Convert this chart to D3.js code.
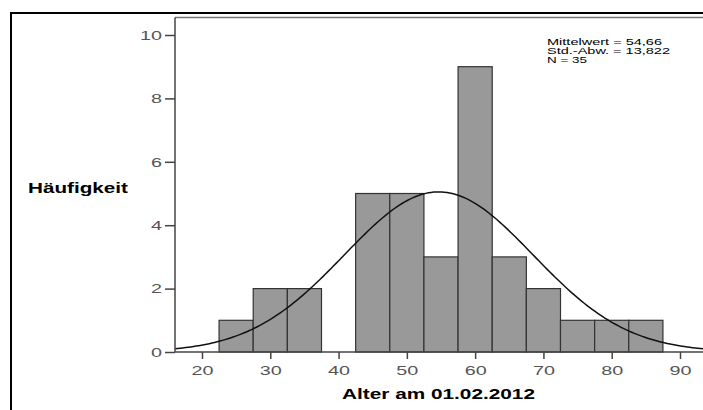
<!DOCTYPE html>
<html>
<head>
<meta charset="utf-8">
<script src="https://cdn.jsdelivr.net/npm/d3@7"></script>
<style>
  body { margin: 0; background: #fff; }
  text { font-family: "Liberation Sans", Arial, sans-serif; }
</style>
</head>
<body>
<div id="chart"></div>
<script>
// histogram bins (lower edge, width 5) and counts
var binStart = [22.5, 27.5, 32.5, 37.5, 42.5, 47.5, 52.5, 57.5, 62.5, 67.5, 72.5, 77.5, 82.5];
var counts   = [1, 2, 2, 0, 5, 5, 3, 9, 3, 2, 1, 1, 1];
var binWidth = 5;
var xTicks = [20, 30, 40, 50, 60, 70, 80, 90];
var yTicks = [0, 2, 4, 6, 8, 10];
var mean = 54.66, sd = 13.822, n = 35;
var statLines = ["Mittelwert = 54,66", "Std.-Abw. = 13,822", "N = 35"];
var statWidths = [115, 123, 40]; // the original font is wide, stretch to these

var width = 703, height = 410;

var svg = d3.select("#chart").append("svg")
    .attr("width", width)
    .attr("height", height);

/* outer frame */
svg.append("path")
    .attr("d", "M11,410 V13 H703")
    .attr("fill", "none")
    .attr("stroke", "#000")
    .attr("stroke-width", 2);

/* scales */
var x = d3.scaleLinear().domain([20, 90]).range([202, 680]);
var y = d3.scaleLinear().domain([0, 10]).range([352, 35]);
var xMin = x.invert(175), xMax = x.invert(703);

// plot top line
svg.append("line")
    .attr("x1", 175).attr("x2", 703)
    .attr("y1", 17.5).attr("y2", 17.5)
    .attr("stroke", "#777").attr("stroke-width", 1.5);

/* bars */
var bins = binStart.map(function(d, i) { return {x0: d, count: counts[i]}; })
    .filter(function(d) { return d.count > 0; });

svg.append("g").selectAll("rect")
    .data(bins)
    .enter().append("rect")
    .attr("x", function(d) { return x(d.x0); })
    .attr("y", function(d) { return y(d.count); })
    .attr("width", function(d) { return x(d.x0 + binWidth) - x(d.x0); })
    .attr("height", function(d) { return y(0) - y(d.count); })
    .attr("fill", "#999")
    .attr("stroke", "#333")
    .attr("stroke-width", 1.2);

/* normal curve */
var pts = d3.range(0, 201).map(function(i) {
  var v = xMin + (xMax - xMin) * i / 200;
  var pdf = Math.exp(-0.5 * Math.pow((v - mean) / sd, 2)) / (sd * Math.sqrt(2 * Math.PI));
  return [v, n * binWidth * pdf];
});
svg.append("path")
    .datum(pts)
    .attr("d", d3.line().x(function(d) { return x(d[0]); }).y(function(d) { return y(d[1]); }))
    .attr("fill", "none")
    .attr("stroke", "#111")
    .attr("stroke-width", 1.5);

/* axes */
var xAxis = svg.append("g")
    .attr("transform", "translate(0,352)")
    .call(d3.axisBottom(x).tickValues(xTicks).tickSize(7).tickPadding(6).tickSizeOuter(0));
xAxis.select(".domain").remove();
xAxis.append("line").attr("x1", 175).attr("x2", 703).attr("stroke", "#444").attr("stroke-width", 1.5);
xAxis.selectAll(".tick line").attr("stroke", "#444").attr("stroke-width", 1.5);
xAxis.selectAll(".tick text")
    .attr("fill", "#555")
    .attr("textLength", function(d) { return String(d).length * 11; })
    .attr("lengthAdjust", "spacingAndGlyphs")
    .style("font-size", "13.5px")
    .style("font-family", "'Liberation Sans', Arial, sans-serif");

var yAxis = svg.append("g")
    .attr("transform", "translate(175,0)")
    .call(d3.axisLeft(y).tickValues(yTicks).tickSize(10).tickPadding(3).tickSizeOuter(0));
yAxis.select(".domain").remove();
yAxis.append("line").attr("y1", 17.5).attr("y2", 352).attr("stroke", "#444").attr("stroke-width", 1.5);
yAxis.selectAll(".tick line").attr("stroke", "#444").attr("stroke-width", 1.5);
yAxis.selectAll(".tick text")
    .attr("fill", "#555")
    .attr("textLength", function(d) { return String(d).length * 11; })
    .attr("lengthAdjust", "spacingAndGlyphs")
    .style("font-size", "13.5px")
    .style("font-family", "'Liberation Sans', Arial, sans-serif");

/* labels */
svg.append("text")
    .attr("x", 28).attr("y", 193)
    .attr("textLength", 100).attr("lengthAdjust", "spacingAndGlyphs")
    .style("font-size", "15px").style("font-weight", "bold")
    .text("Häufigkeit");

svg.append("text")
    .attr("x", 342).attr("y", 399)
    .attr("textLength", 193).attr("lengthAdjust", "spacingAndGlyphs")
    .style("font-size", "14px").style("font-weight", "bold")
    .text("Alter am 01.02.2012");

svg.append("g").selectAll("text")
    .data(statLines)
    .enter().append("text")
    .attr("x", 547)
    .attr("y", function(d, i) { return 44.5 + i * 9; })
    .attr("textLength", function(d, i) { return statWidths[i]; })
    .attr("lengthAdjust", "spacingAndGlyphs")
    .style("font-size", "9px")
    .text(function(d) { return d; });
</script>
</body>
</html>
